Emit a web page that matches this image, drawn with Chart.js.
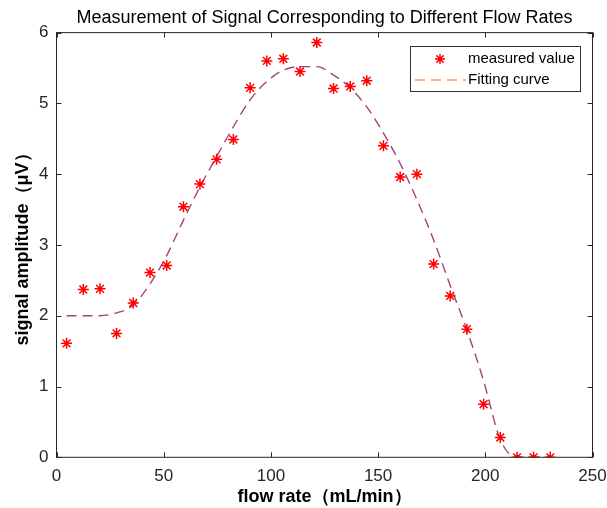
<!DOCTYPE html>
<html>
<head>
<meta charset="utf-8">
<script src="https://cdn.jsdelivr.net/npm/chart.js@4"></script>
<style>
  html,body{margin:0;padding:0;background:#fff;}
  #wrap{width:607px;height:508px;}
</style>
</head>
<body>
<div id="wrap"><canvas id="chart" width="607" height="508"></canvas></div>
<script>
// flow rate (mL/min) of each measurement
const flowRates = [4.7, 12.5, 20.3, 28.0, 35.8, 43.6, 51.4, 59.2, 66.9, 74.7,
  82.5, 90.3, 98.1, 105.8, 113.6, 121.4, 129.2, 137.0, 144.7, 152.5,
  160.3, 168.1, 175.9, 183.6, 191.4, 199.2, 207.0, 214.8, 222.5, 230.3];
// measured signal amplitude (uV)
const measured = [1.61, 2.37, 2.38, 1.75, 2.18, 2.61, 2.71, 3.54, 3.86, 4.21,
  4.49, 5.22, 5.60, 5.63, 5.45, 5.86, 5.21, 5.24, 5.32, 4.40,
  3.96, 4.00, 2.73, 2.28, 1.81, 0.75, 0.28, 0, 0, 0];
// fitting curve
const fitted = [2.00, 2.00, 2.00, 2.04, 2.15, 2.45, 2.85, 3.35, 3.82, 4.25,
  4.67, 5.05, 5.31, 5.47, 5.52, 5.52, 5.40, 5.22, 4.95, 4.58,
  4.15, 3.64, 3.07, 2.43, 1.80, 1.08, 0.25, 0, 0, 0];
const xTicks = [0, 50, 100, 150, 200, 250];
const yTicks = [0, 1, 2, 3, 4, 5, 6];

const FONT = 'Arial, "Liberation Sans", Helvetica, sans-serif';

// box + inward ticks on all four sides, matlab style
const axesBox = {
  id: 'axesBox',
  afterDatasetsDraw(chart){
    const {ctx, chartArea:a, scales} = chart;
    ctx.save();
    ctx.strokeStyle = '#262626';
    ctx.lineWidth = 1;
    ctx.strokeRect(a.left, a.top, a.right - a.left, a.bottom - a.top);
    ctx.beginPath();
    xTicks.forEach(v=>{
      const px = Math.round(scales.x.getPixelForValue(v)) + 0.5;
      ctx.moveTo(px, a.bottom); ctx.lineTo(px, a.bottom - 5);
      ctx.moveTo(px, a.top); ctx.lineTo(px, a.top + 5);
    });
    yTicks.forEach(v=>{
      const py = Math.round(scales.y.getPixelForValue(v)) + 0.5;
      ctx.moveTo(a.left, py); ctx.lineTo(a.left + 5, py);
      ctx.moveTo(a.right, py); ctx.lineTo(a.right - 5, py);
    });
    ctx.stroke();
    ctx.restore();
  }
};

// legend box inside the axes (top right)
const legendBox = {
  id: 'legendBox',
  afterDraw(chart){
    const ctx = chart.ctx;
    const x = 410, y = 46, w = 170, h = 45;
    ctx.save();
    ctx.fillStyle = '#fff';
    ctx.fillRect(x, y, w, h);
    ctx.strokeStyle = '#333';
    ctx.lineWidth = 1;
    ctx.strokeRect(x + 0.5, y + 0.5, w, h);
    // star marker
    ctx.strokeStyle = '#ff0000';
    ctx.lineWidth = 1.5;
    const mx = 440, my = 59, r = 5;
    ctx.beginPath();
    ctx.moveTo(mx - r, my); ctx.lineTo(mx + r, my);
    ctx.moveTo(mx, my - r); ctx.lineTo(mx, my + r);
    const d = r * 0.72;
    ctx.moveTo(mx - d, my - d); ctx.lineTo(mx + d, my + d);
    ctx.moveTo(mx - d, my + d); ctx.lineTo(mx + d, my - d);
    ctx.stroke();
    // dashed line
    ctx.strokeStyle = '#ff9966';
    ctx.lineWidth = 1.3;
    ctx.setLineDash([10, 6]);
    ctx.beginPath();
    ctx.moveTo(415, 80); ctx.lineTo(466, 80);
    ctx.stroke();
    ctx.setLineDash([]);
    ctx.fillStyle = '#000';
    ctx.font = '15px ' + FONT;
    ctx.textBaseline = 'middle';
    ctx.fillText('measured value', 468, 59);
    ctx.fillText('Fitting curve', 468, 80);
    ctx.restore();
  }
};

new Chart(document.getElementById('chart'), {
  type: 'scatter',
  data: {
    datasets: [
      {
        label: 'measured value',
        data: flowRates.map((x,i)=>({x, y: measured[i]})),
        pointStyle: 'star',
        pointRadius: 5.5,
        borderColor: '#ff0000',
        backgroundColor: '#ff0000',
        borderWidth: 1.5,
        order: 1
      },
      {
        label: 'Fitting curve',
        type: 'line',
        data: flowRates.map((x,i)=>({x, y: fitted[i]})),
        showLine: true,
        borderColor: '#a8407c',
        borderWidth: 1.4,
        borderDash: [10, 6],
        pointRadius: 0,
        cubicInterpolationMode: 'monotone',
        fill: false,
        order: 2
      }
    ]
  },
  options: {
    responsive: false,
    animation: false,
    layout: {padding: {left: 0, right: 0, top: 0, bottom: 0}},
    plugins: {
      legend: {display: false},
      tooltip: {enabled: false},
      title: {
        display: true,
        fullSize: false,
        text: 'Measurement of Signal Corresponding to Different Flow Rates',
        color: '#000',
        font: {family: FONT, size: 18, weight: 'normal'},
        padding: {top: 7, bottom: 4}
      }
    },
    scales: {
      x: {
        type: 'linear',
        min: 0, max: 250,
        afterFit: s => { s.height = 50.7; s.paddingLeft = 0; s.paddingRight = 14.5; },
        afterBuildTicks: s => { s.ticks = xTicks.map(v=>({value: v})); },
        grid: {display: false, drawTicks: false},
        border: {display: false},
        ticks: {color: '#262626', padding: 9, font: {family: FONT, size: 17}},
        title: {
          display: true,
          text: 'flow rate（mL/min）',
          color: '#000',
          font: {family: FONT, size: 18, weight: 'bold'},
          padding: {top: 0, bottom: 0}
        }
      },
      y: {
        type: 'linear',
        min: 0, max: 6,
        afterFit: s => { s.width = 56.5; s.paddingTop = 0; s.paddingBottom = 0; },
        afterBuildTicks: s => { s.ticks = yTicks.map(v=>({value: v})); },
        grid: {display: false, drawTicks: false},
        border: {display: false},
        ticks: {color: '#262626', padding: 8, font: {family: FONT, size: 17}},
        title: {
          display: true,
          text: 'signal amplitude（μV）',
          color: '#000',
          font: {family: FONT, size: 18, weight: 'bold'},
          padding: {top: 12, bottom: 0}
        }
      }
    }
  },
  plugins: [axesBox, legendBox]
});
</script>
</body>
</html>
